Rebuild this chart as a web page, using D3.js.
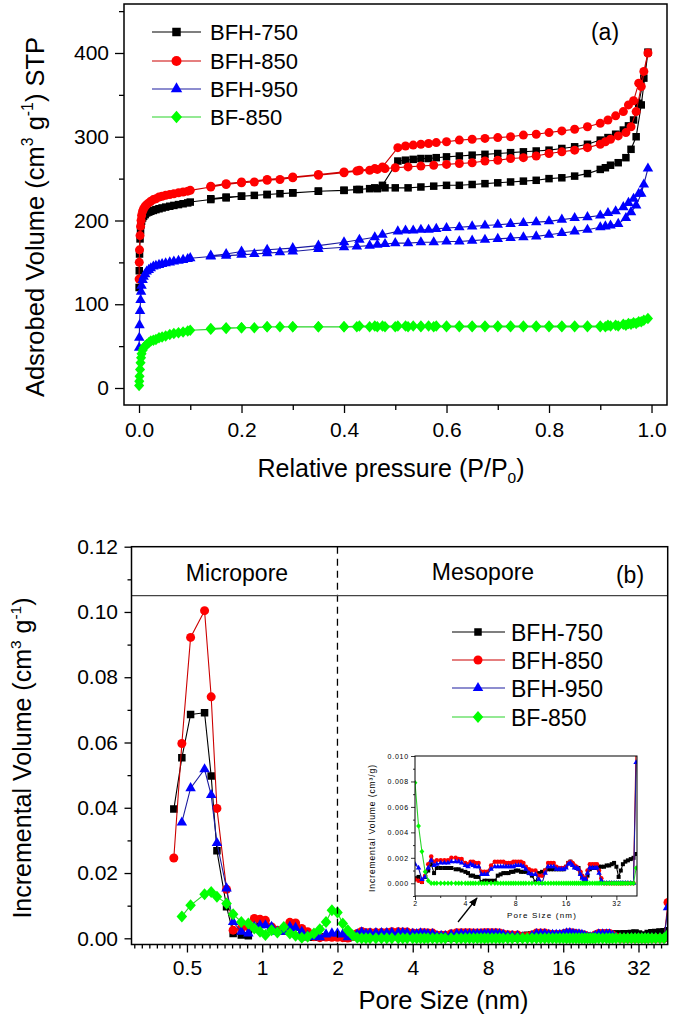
<!DOCTYPE html>
<html><head><meta charset="utf-8">
<script src="https://cdn.jsdelivr.net/npm/d3@7"></script>
<style>body{margin:0;background:#fff}svg{display:block}text{font-family:Arial,"Liberation Sans",sans-serif;fill:#000}</style>
</head><body><svg id="c" width="675" height="1017"></svg>
<script>
// ---------- DATA ----------
const seriesNames = ["BFH-750", "BFH-850", "BFH-950", "BF-850"];

// (a) N2 isotherms: relative pressure grids
const adsP = [0.0002,0.0005,0.001,0.002,0.003,0.004,0.005,0.007,0.009,0.012,
  0.015,0.019,0.023,0.028,0.033,0.039,0.045,0.052,0.06,0.068,
  0.077,0.086,0.095,0.1,0.14,0.17,0.2,0.225,0.25,0.275,
  0.3,0.35,0.4,0.425,0.45,0.465,0.48,0.5,0.525,0.55,
  0.575,0.6,0.625,0.65,0.675,0.7,0.725,0.75,0.775,0.8,
  0.825,0.85,0.875,0.9,0.91,0.92,0.935,0.95,0.96,0.97,
  0.98,0.993];
const desP = [0.985,0.975,0.965,0.955,0.945,0.93,0.915,0.9,0.875,0.85,
  0.825,0.8,0.775,0.75,0.725,0.7,0.675,0.65,0.625,0.6,
  0.58,0.565,0.55,0.535,0.52,0.505,0.475,0.46,0.43,0.4,
  0.35,0.3,0.25,0.2,0.17,0.14];

const adsBFH750 = [120,140,160,178,188,195,199,203,205,207,
  209,210,211,212,213,214,215,216,217,218,
  219,220,221,222,225,227,229,230,231,232,
  233,235,236,237,238,238,239,239,239,240,
  241,242,242,243,244,245,246,247,248,250,
  251,253,256,261,263,266,269,275,285,300,
  338,401];
const adsBFH850 = [130,150,165,182,193,200,206,211,214,217,
  219,221,223,225,226,228,229,230,231,232,
  233,234,235,236,240,243,245,246,248,249,
  251,254,257,259,260,261,262,263,264,265,
  266,267,268,269,271,272,274,275,277,280,
  282,284,287,291,294,297,301,305,312,330,
  360,400];
const adsBFH950 = [48,60,75,92,105,115,122,129,133,136,
  139,141,143,145,146,147,148,149,150,151,
  152,153,154,155,157,158,159,160,161,162,
  163,166,168,169,170,171,172,173,173,174,
  174,175,175,176,177,178,179,180,181,183,
  185,187,189,192,193,194,196,203,210,218,
  232,262];
const adsBF850 = [3,8,14,22,30,36,41,45,48,50,
  52,54,56,57,58,60,61,62,64,65,
  66,67,68,69,70,71,72,72,73,73,
  73,73,73,73,73,73,73,73,73,73,
  73,73,73,73,73,73,73,73,73,73,
  73,73,73,73,73,74,74,75,76,77,
  79,83];

const desBFH750 = [370,340,320,313,308,303,299,296,291,288,
  286,284,283,282,281,280,279,278,277,276,
  275,274,274,273,272,271,242,239,237,236,
  235,233,231,229,228,226];
const desBFH850 = [378,364,343,338,330,325,320,316,312,309,
  307,305,303,302,300,299,298,297,296,294,
  293,292,291,290,289,287,264,262,260,258,
  255,252,249,246,244,241];
const desBFH950 = [243,232,226,221,216,211,209,206,204,203,
  201,199,198,197,196,195,194,193,192,191,
  190,189,189,188,188,187,183,180,177,174,
  170,167,165,163,160,158];
const desBF850 = [81,79,78,77,76,75,75,74,74,74,
  74,74,74,74,74,74,74,74,74,74,
  74,74,74,74,74,74,74,74,74,73,
  73,73,73,72,72,71];

// (b) pore size distribution
const poreSize = [0.443,0.477,0.517,0.588,0.625,0.659,0.72,0.765,0.825,0.88,
  0.93,0.98,1.03,1.09,1.15,1.22,1.29,1.36,1.44,1.52,
  1.61,1.7,1.8,1.9,2.0,2.1,2.2,2.3,2.4,2.5,
  2.6,2.7,2.85,3.0,3.15,3.3,3.5,3.65,3.8,4.0,
  4.15,4.3,4.45,4.6,4.8,5.0,5.2,5.4,5.7,6.0,
  6.25,6.5,6.75,7.0,7.25,7.5,7.75,8.0,8.3,8.6,
  8.9,9.2,9.6,10.0,10.5,11.0,11.5,12.0,12.5,13.0,
  13.5,14.0,14.5,15.0,15.5,16.0,16.5,17.0,17.5,18.0,
  18.5,19.0,19.5,20.0,20.5,21.0,21.5,22.2,23.0,23.8,
  24.5,25.2,26.0,27.0,28.0,29.0,30.0,31.0,32.0,33.0,
  34.0,35.0,36.2,37.5,39.0,40.5,42.0];

const ivBFH750 = [0.0396,0.0553,0.0686,0.0691,0.0497,0.0268,0.0097,0.0015,0.0010,0.0008,
  0.0030,0.0045,0.0045,0.0030,0.0025,0.0022,0.0028,0.0035,0.0015,0.0005,
  0.0003,0.0003,0.0005,0.0003,0.0004,0.0005,0.0001,0.0005,0.0010,0.0015,
  0.0008,0.0012,0.0012,0.0012,0.0012,0.0012,0.0011,0.0011,0.0010,0.0009,
  0.0008,0.0006,0.0006,0.0005,0.0005,0.0001,0.0002,0.0002,0.0002,0.0002,
  0.0006,0.0007,0.0008,0.0008,0.0008,0.0009,0.0009,0.0010,0.0010,0.0009,
  0.0009,0.0009,0.0008,0.0006,0.0001,0.0008,0.0009,0.0010,0.0011,0.0011,
  0.0011,0.0011,0.0011,0.0011,0.0011,0.0013,0.0016,0.0017,0.0015,0.0013,
  0.0012,0.0012,0.0008,0.0005,0.0002,0.0002,0.0006,0.0011,0.0012,0.0012,
  0.0013,0.0013,0.0013,0.0013,0.0014,0.0014,0.0015,0.0016,0.0013,0.0005,
  0.0010,0.0015,0.0017,0.0018,0.0019,0.0020,0.0023];
const ivBFH850 = [0.0246,0.0597,0.0922,0.1004,0.0740,0.0398,0.0150,0.0025,0.0030,0.0035,
  0.0061,0.0058,0.0055,0.0035,0.0025,0.0025,0.0049,0.0047,0.0030,0.0020,
  0.0005,0.0002,0.0004,0.0003,0.0003,0.0002,0.0001,0.0006,0.0015,0.0021,
  0.0017,0.0018,0.0018,0.0018,0.0018,0.0020,0.0020,0.0019,0.0019,0.0016,
  0.0015,0.0017,0.0017,0.0016,0.0016,0.0009,0.0009,0.0009,0.0014,0.0017,
  0.0017,0.0017,0.0017,0.0016,0.0016,0.0016,0.0017,0.0017,0.0017,0.0017,
  0.0016,0.0013,0.0011,0.0010,0.0010,0.0006,0.0006,0.0010,0.0016,0.0016,
  0.0016,0.0013,0.0012,0.0012,0.0012,0.0013,0.0016,0.0017,0.0016,0.0014,
  0.0013,0.0011,0.0009,0.0006,0.0004,0.0004,0.0010,0.0015,0.0015,0.0015,
  0.0015,0.0010,0.0004,0,0,0,0,0,0,0,
  0,0,0,0,0,0,0.0110];
const ivBFH950 = [null,0.0355,0.0460,0.0518,0.0439,0.0292,0.0153,0.0050,0.0020,0.0015,
  0.0035,0.0040,0.0040,0.0035,0.0020,0.0020,0.0035,0.0032,0.0020,0.0008,
  0.0004,0.0003,0.0012,0.0015,0.0015,0.0012,0.0003,0.0005,0.0012,0.0018,
  0.0014,0.0015,0.0016,0.0016,0.0016,0.0017,0.0017,0.0017,0.0016,0.0014,
  0.0013,0.0015,0.0014,0.0013,0.0013,0.0007,0.0007,0.0007,0.0011,0.0013,
  0.0013,0.0013,0.0013,0.0013,0.0013,0.0013,0.0013,0.0014,0.0014,0.0014,
  0.0013,0.0011,0.0008,0.0007,0.0007,0.0003,0.0000,0.0008,0.0013,0.0013,
  0.0013,0.0011,0.0011,0.0011,0.0011,0.0012,0.0015,0.0016,0.0014,0.0012,
  0.0012,0.0011,0.0007,0.0004,0.0003,0.0003,0.0008,0.0012,0.0012,0.0012,
  0.0012,0.0008,0.0002,0,0,0,0,0,0,0,
  0,0,0,0,0,0,0.0095];
const ivBF850 = [null,0.0067,0.0101,0.0135,0.0142,0.0127,0.0107,0.0074,0.0050,0.0045,
  0.0030,0.0020,0.0010,0.0025,0.0018,0.0035,0.0015,0.0008,0.0002,0.0005,
  0.0015,0.0028,0.0050,0.0086,0.0079,0.0045,0.0025,0.0009,0.0002,0,
  0,0,0,0,0,0,0,0,0,0,
  0,0,0,0,0,0,0,0,0,0,
  0,0,0,0,0,0,0,0,0,0,
  0,0,0,0,0,0,0,0,0,0,
  0,0,0,0,0,0,0,0,0,0,
  0,0,0,0,0,0,0,0,0,0,
  0,0,0,0,0,0,0,0,0,0,
  0,0,0,0,0,0,0.0012];

const topXTicks = [0, 0.2, 0.4, 0.6, 0.8, 1.0];
const topYTicks = [0, 100, 200, 300, 400];
const botXTicks = [0.5, 1, 2, 4, 8, 16, 32];
const botYTicks = [0, 0.02, 0.04, 0.06, 0.08, 0.10, 0.12];
const insetXTicks = [2, 4, 8, 16, 32];
const insetYTicks = [0, 0.002, 0.004, 0.006, 0.008, 0.010];

// ---------- STYLE ----------
const markColor = ["#000000", "#ff0000", "#0000ff", "#00ff00"];
const lineColor = ["#000000", "#cc0000", "#1c1ca0", "#2ad42a"];
const shapes = {
  square: {draw(c, s) { const h = Math.sqrt(s) / 2; c.rect(-h, -h, 2 * h, 2 * h); }},
  circle: {draw(c, s) { const r = Math.sqrt(s) / 2; c.moveTo(r, 0); c.arc(0, 0, r, 0, 2 * Math.PI); }},
  triangle: {draw(c, s) { const a = Math.sqrt(s), h = a * 0.866; c.moveTo(0, -2 * h / 3); c.lineTo(a / 2, h / 3); c.lineTo(-a / 2, h / 3); c.closePath(); }},
  diamond: {draw(c, s) { const h = Math.sqrt(s) / 2, w = h * 0.88; c.moveTo(0, -h); c.lineTo(w, 0); c.lineTo(0, h); c.lineTo(-w, 0); c.closePath(); }}
};
const shapeOf = [shapes.square, shapes.circle, shapes.triangle, shapes.diamond];
const sizeTop = [7.5, 9, 10.5, 11.5];
const sizeBot = [7.5, 9, 10.5, 12];
const sizeInset = [4, 4.5, 5.5, 5.5];
const symPath = (i, px) => d3.symbol().type(shapeOf[i]).size(px * px)();

const svg = d3.select("#c");
const defs = svg.append("defs");
function clip(id, x, y, w, h) { defs.append("clipPath").attr("id", id).append("rect").attr("x", x).attr("y", y).attr("width", w).attr("height", h); }

function richText(g, x, y, parts, size, anchor, rotate) {
  const t = g.append("text").attr("font-size", size).attr("text-anchor", anchor || "middle");
  if (rotate) t.attr("transform", `translate(${x},${y}) rotate(-90)`);
  else t.attr("x", x).attr("y", y);
  let shift = 0;
  parts.forEach(([s, kind]) => {
    const sp = t.append("tspan").text(s);
    let target = 0;
    if (kind === "sup") { sp.attr("font-size", size * 0.62); target = -size * 0.42; }
    else if (kind === "sub") { sp.attr("font-size", size * 0.62); target = size * 0.25; }
    if (target !== shift) { sp.attr("dy", target - shift); shift = target; }
  });
  return t;
}
function styleAxis(g, fs) {
  g.select(".domain").remove();
  g.selectAll(".tick line").attr("stroke", "#000").attr("stroke-width", 1.3);
  g.selectAll(".tick text").attr("font-size", fs).attr("font-family", "Arial, Liberation Sans, sans-serif").attr("fill", "#000");
}

// ---------- PANEL (a) ----------
const xA = d3.scaleLinear().domain([-0.0293, 1.0302]).range([124, 667]);
const yA = d3.scaleLinear().domain([-20.3, 458.5]).range([405, 4]);
clip("clipA", 124, 4, 543, 401);

const adsA = [adsBFH750, adsBFH850, adsBFH950, adsBF850];
const desA = [desBFH750, desBFH850, desBFH950, desBF850];
const gA = svg.append("g").attr("clip-path", "url(#clipA)");
adsA.forEach((ads, i) => {
  const pts = adsP.map((p, k) => [p, ads[k]]).concat(desP.map((p, k) => [p, desA[i][k]]));
  gA.append("path").attr("d", d3.line().x(d => xA(d[0])).y(d => yA(d[1]))(pts))
    .attr("fill", "none").attr("stroke", lineColor[i]).attr("stroke-width", 1.1);
  gA.selectAll(null).data(pts).join("path")
    .attr("transform", d => `translate(${xA(d[0])},${yA(d[1])})`)
    .attr("d", symPath(i, sizeTop[i])).attr("fill", markColor[i]);
});
svg.append("rect").attr("x", 124).attr("y", 4).attr("width", 543).attr("height", 401)
  .attr("fill", "none").attr("stroke", "#000").attr("stroke-width", 1.5);

let ax = svg.append("g").attr("transform", "translate(0,405)")
  .call(d3.axisBottom(xA).tickValues(topXTicks).tickSize(8).tickPadding(9.5).tickFormat(d3.format(".1f")));
styleAxis(ax, 21);
ax = svg.append("g").attr("transform", "translate(0,405)")
  .call(d3.axisBottom(xA).tickValues([0.1, 0.3, 0.5, 0.7, 0.9]).tickSize(5).tickFormat(""));
styleAxis(ax, 21);
ax = svg.append("g").attr("transform", "translate(124,0)")
  .call(d3.axisLeft(yA).tickValues(topYTicks).tickSize(9).tickPadding(6));
styleAxis(ax, 21);
ax = svg.append("g").attr("transform", "translate(124,0)")
  .call(d3.axisLeft(yA).tickValues([50, 150, 250, 350, 450]).tickSize(5).tickFormat(""));
styleAxis(ax, 21);

richText(svg, 391, 477, [["Relative pressure (P/P", "n"], ["0", "sub"], [")", "n"]], 25);
richText(svg, 44, 217, [["Adsrobed Volume (cm", "n"], ["3", "sup"], [" g", "n"], ["-1", "sup"], [") STP", "n"]], 25.5, "middle", true);
svg.append("text").attr("x", 605).attr("y", 40).attr("font-size", 23).attr("text-anchor", "middle").text("(a)");

const legA = [32, 61, 89, 117];
seriesNames.forEach((n, i) => {
  const y = legA[i];
  svg.append("line").attr("x1", 152).attr("x2", 201).attr("y1", y).attr("y2", y).attr("stroke", lineColor[i]).attr("stroke-width", 1.2);
  svg.append("path").attr("transform", `translate(176.5,${y})`).attr("d", symPath(i, sizeTop[i] + 1)).attr("fill", markColor[i]);
  svg.append("text").attr("x", 210).attr("y", y + 8).attr("font-size", 22).text(n);
});

// ---------- PANEL (b) ----------
const xB = d3.scaleLog().base(2).domain([0.3, 41.88]).range([131.5, 667.7]);
const yB = d3.scaleLinear().domain([-0.0019, 0.12]).range([944.5, 546.7]);
clip("clipB", 131.5, 546.7, 536.2, 397.8);
const ivB = [ivBFH750, ivBFH850, ivBFH950, ivBF850];

function drawPSD(g, xs, ys, sizes) {
  ivB.forEach((vals, i) => {
    const pts = poreSize.map((p, k) => [p, vals[k]]).filter(d => d[1] != null);
    g.append("path").attr("d", d3.line().x(d => xs(d[0])).y(d => ys(d[1]))(pts))
      .attr("fill", "none").attr("stroke", lineColor[i]).attr("stroke-width", 1.1);
    g.selectAll(null).data(pts).join("path")
      .attr("transform", d => `translate(${xs(d[0])},${ys(d[1])})`)
      .attr("d", symPath(i, sizes[i])).attr("fill", markColor[i]);
  });
}
const gB = svg.append("g").attr("clip-path", "url(#clipB)");
drawPSD(gB, xB, yB, sizeBot);

svg.append("line").attr("x1", xB(2)).attr("x2", xB(2)).attr("y1", 546.7).attr("y2", 944.5)
  .attr("stroke", "#000").attr("stroke-width", 1.3).attr("stroke-dasharray", "7,5");
svg.append("line").attr("x1", 131.5).attr("x2", 667.7).attr("y1", yB(0.105)).attr("y2", yB(0.105))
  .attr("stroke", "#444").attr("stroke-width", 1.2);
svg.append("rect").attr("x", 131.5).attr("y", 546.7).attr("width", 536.2).attr("height", 397.8)
  .attr("fill", "none").attr("stroke", "#000").attr("stroke-width", 1.5);

ax = svg.append("g").attr("transform", "translate(0,944.5)")
  .call(d3.axisBottom(xB).tickValues(botXTicks).tickSize(8).tickPadding(8).tickFormat(d => String(d)));
styleAxis(ax, 21);
const minorB = d3.range(-18, 54).map(i => Math.pow(2, i / 10)).filter(v => v >= 0.3 && v <= 41.88 && !botXTicks.some(t => Math.abs(Math.log2(t) - Math.log2(v)) < 1e-6));
ax = svg.append("g").attr("transform", "translate(0,944.5)")
  .call(d3.axisBottom(xB).tickValues(minorB).tickSize(4).tickFormat(""));
styleAxis(ax, 21);
ax = svg.append("g").attr("transform", "translate(131.5,0)")
  .call(d3.axisLeft(yB).tickValues(botYTicks).tickSize(7).tickPadding(6.5).tickFormat(d3.format(".2f")));
styleAxis(ax, 21);
ax = svg.append("g").attr("transform", "translate(131.5,0)")
  .call(d3.axisLeft(yB).tickValues([0.01, 0.03, 0.05, 0.07, 0.09, 0.11]).tickSize(4).tickFormat(""));
styleAxis(ax, 21);

richText(svg, 443.5, 1009, [["Pore Size (nm)", "n"]], 25.5);
richText(svg, 31, 758, [["Incremental Volume (cm", "n"], ["3", "sup"], [" g", "n"], ["-1", "sup"], [")", "n"]], 25, "middle", true);
svg.append("text").attr("x", 237).attr("y", 581).attr("font-size", 23).attr("text-anchor", "middle").text("Micropore");
svg.append("text").attr("x", 483).attr("y", 580).attr("font-size", 23).attr("text-anchor", "middle").text("Mesopore");
svg.append("text").attr("x", 630).attr("y", 583).attr("font-size", 23).attr("text-anchor", "middle").text("(b)");

const legB = [632, 660, 688, 717];
seriesNames.forEach((n, i) => {
  const y = legB[i];
  svg.append("line").attr("x1", 452).attr("x2", 505).attr("y1", y).attr("y2", y).attr("stroke", lineColor[i]).attr("stroke-width", 1.2);
  svg.append("path").attr("transform", `translate(478,${y})`).attr("d", symPath(i, sizeBot[i])).attr("fill", markColor[i]);
  svg.append("text").attr("x", 511).attr("y", y + 8.5).attr("font-size", 23).text(n);
});

// ---------- INSET ----------
const xI = d3.scaleLog().base(2).domain([2, 42.5]).range([415, 637]);
const yI = d3.scaleLinear().domain([-0.001, 0.010]).range([896, 756]);
clip("clipI", 415, 756, 222, 140);
svg.append("rect").attr("x", 415).attr("y", 756).attr("width", 222).attr("height", 140).attr("fill", "#fff");
const gI = svg.append("g").attr("clip-path", "url(#clipI)");
drawPSD(gI, xI, yI, sizeInset);
svg.append("rect").attr("x", 415).attr("y", 756).attr("width", 222).attr("height", 140)
  .attr("fill", "none").attr("stroke", "#000").attr("stroke-width", 1);

function styleInset(g) {
  g.select(".domain").remove();
  g.selectAll(".tick line").attr("stroke", "#000").attr("stroke-width", 0.8);
  g.selectAll(".tick text").attr("font-size", 7).attr("letter-spacing", "0.8px").attr("fill", "#222");
}
ax = svg.append("g").attr("transform", "translate(0,896)")
  .call(d3.axisBottom(xI).tickValues(insetXTicks).tickSize(4).tickPadding(1.5).tickFormat(d => String(d)));
styleInset(ax);
ax = svg.append("g").attr("transform", "translate(0,896)")
  .call(d3.axisBottom(xI).tickValues([2.83, 5.66, 11.3, 22.6]).tickSize(2).tickFormat(""));
styleInset(ax);
ax = svg.append("g").attr("transform", "translate(415,0)")
  .call(d3.axisLeft(yI).tickValues(insetYTicks).tickSize(4).tickPadding(2).tickFormat(d3.format(".3f")));
styleInset(ax);
ax = svg.append("g").attr("transform", "translate(415,0)")
  .call(d3.axisLeft(yI).tickValues([-0.001, 0.001, 0.003, 0.005, 0.007, 0.009]).tickSize(2).tickFormat(""));
styleInset(ax);
svg.append("text").attr("x", 542).attr("y", 918).attr("font-size", 8).attr("letter-spacing", "1.2px")
  .attr("text-anchor", "middle").attr("fill", "#222").text("Pore Size (nm)");
svg.append("text").attr("transform", "translate(375,828) rotate(-90)").attr("font-size", 8.5)
  .attr("letter-spacing", "0.9px").attr("text-anchor", "middle").attr("fill", "#222").text("Incremental Volume (cm³/g)");

// arrow pointing to the inset
defs.append("marker").attr("id", "ah").attr("viewBox", "0 0 10 10").attr("refX", 9).attr("refY", 5)
  .attr("markerWidth", 7).attr("markerHeight", 7).attr("orient", "auto")
  .append("path").attr("d", "M0,1 L10,5 L0,9 Z").attr("fill", "#000");
svg.append("line").attr("x1", 458).attr("y1", 922).attr("x2", 477).attr("y2", 898)
  .attr("stroke", "#000").attr("stroke-width", 1.3).attr("marker-end", "url(#ah)");
</script></body></html>
